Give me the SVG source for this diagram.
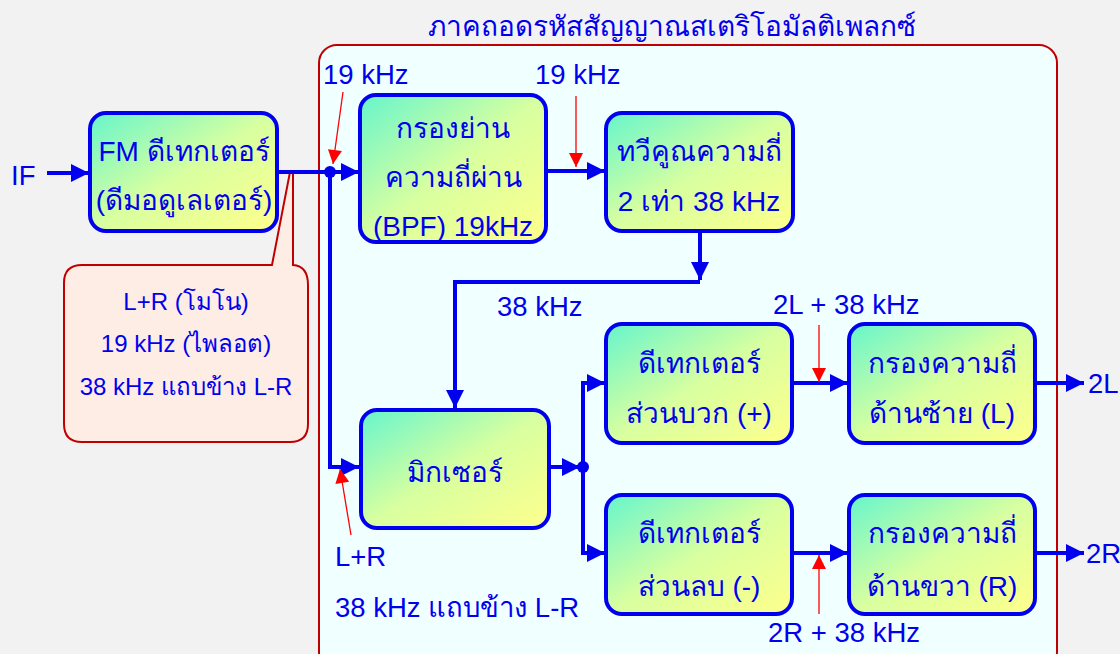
<svg xmlns="http://www.w3.org/2000/svg" width="1120" height="654" viewBox="0 0 1120 654">
<defs>
<linearGradient id="g" x1="0" y1="0" x2="1" y2="1">
<stop offset="0" stop-color="#66f5cc"/>
<stop offset="0.5" stop-color="#d8ffa0"/>
<stop offset="1" stop-color="#ffff8c"/>
</linearGradient>
<marker id="ab" viewBox="0 0 10 10" refX="10" refY="5" markerWidth="20" markerHeight="18" markerUnits="userSpaceOnUse" orient="auto"><path d="M0,0 L10,5 L0,10 z" fill="#0000ee"/></marker>
<marker id="ar" viewBox="0 0 10 10" refX="10" refY="5" markerWidth="16" markerHeight="14" markerUnits="userSpaceOnUse" orient="auto"><path d="M0,0 L10,5 L0,10 z" fill="#ff0000"/></marker>
<style>
.box{fill:url(#g);stroke:#0000ee;stroke-width:4}
.t{font-family:"Liberation Sans","Noto Sans","DejaVu Sans",sans-serif;font-size:28px;fill:#0000ee;text-anchor:middle}
.s{font-size:24px}
.l{font-family:"Liberation Sans","Noto Sans","DejaVu Sans",sans-serif;font-size:27.5px;fill:#0000ee}
.c{stroke:#0000ee;stroke-width:4;fill:none}
.r{stroke:#ff0000;stroke-width:1.3;fill:none}
</style>
</defs>
<rect width="1120" height="654" fill="#f2f2f2"/>
<rect id="frame" x="319" y="45" width="738" height="625" rx="18" fill="#f0ffff" stroke="#c00000" stroke-width="2"/>
<text class="t" x="672" y="36">ภาคถอดรหัสสัญญาณสเตริโอมัลติเพลกซ์</text>

<g id="callout">
<path d="M82,265 L272,265 L290,172 L293,172 L293,265 Q308,266 308,285 L308,424 Q308,442 290,442 L82,442 Q64,442 64,424 L64,283 Q64,265 82,265 z" fill="#fdede4" stroke="#c00000" stroke-width="2"/>
<text class="t s" x="186" y="310">L+R (โมโน)</text>
<text class="t s" x="186" y="352">19 kHz (ไพลอต)</text>
<text class="t s" x="186" y="395">38 kHz แถบข้าง L-R</text>
</g>

<g id="connectors">
<line class="c" x1="47" y1="173" x2="89" y2="173" marker-end="url(#ab)"/>
<line class="c" x1="277" y1="172" x2="359" y2="172" marker-end="url(#ab)"/>
<path class="c" d="M330,172 L330,467 L359,467" marker-end="url(#ab)"/>
<line class="c" x1="546" y1="171" x2="605" y2="171" marker-end="url(#ab)"/>
<line class="c" x1="700" y1="231" x2="700" y2="280" marker-end="url(#ab)"/>
<path class="c" d="M700,282 L455,282 L455,408" marker-end="url(#ab)"/>
<line class="c" x1="548" y1="467" x2="580" y2="467" marker-end="url(#ab)"/>
<path class="c" d="M605,383 L583,383 L583,553 L605,553"/>
<line class="c" x1="583" y1="383" x2="605" y2="383" marker-end="url(#ab)"/>
<line class="c" x1="583" y1="553" x2="605" y2="553" marker-end="url(#ab)"/>
<line class="c" x1="791" y1="383" x2="848" y2="383" marker-end="url(#ab)"/>
<line class="c" x1="791" y1="553" x2="848" y2="553" marker-end="url(#ab)"/>
<line class="c" x1="1034" y1="383" x2="1084" y2="383" marker-end="url(#ab)"/>
<line class="c" x1="1034" y1="553" x2="1084" y2="553" marker-end="url(#ab)"/>
<circle cx="330" cy="172" r="6" fill="#0000ee"/>
<circle cx="583" cy="467" r="6" fill="#0000ee"/>
<line class="r" x1="343" y1="92" x2="333" y2="164" marker-end="url(#ar)"/>
<line class="r" x1="576" y1="96" x2="576" y2="167" marker-end="url(#ar)"/>
<line class="r" x1="819" y1="325" x2="819" y2="382" marker-end="url(#ar)"/>
<line class="r" x1="819" y1="614" x2="819" y2="555" marker-end="url(#ar)"/>
<line class="r" x1="351" y1="535" x2="340" y2="469" marker-end="url(#ar)"/>
</g>

<g id="labels">
<text class="l" x="11" y="185">IF</text>
<text class="l" x="323" y="84">19 kHz</text>
<text class="l" x="535" y="84">19 kHz</text>
<text class="l" x="497" y="316">38 kHz</text>
<text class="l" x="773" y="314">2L + 38 kHz</text>
<text class="l" x="768" y="642">2R + 38 kHz</text>
<text class="l" x="335" y="566">L+R</text>
<text class="l" x="335" y="617">38 kHz แถบข้าง L-R</text>
<text class="l" x="1088" y="393">2L</text>
<text class="l" x="1086" y="563">2R</text>
</g>

<g id="fm"><rect class="box" x="90" y="113" width="187" height="118" rx="16"/>
<text class="t" x="184" y="161">FM ดีเทกเตอร์</text>
<text class="t" x="184" y="210">(ดีมอดูเลเตอร์)</text></g>

<g id="bpf"><rect class="box" x="360" y="95" width="186" height="147" rx="16"/>
<text class="t" x="453" y="138">กรองย่าน</text>
<text class="t" x="453" y="187">ความถี่ผ่าน</text>
<text class="t" x="453" y="236">(BPF) 19kHz</text></g>

<g id="doubler"><rect class="box" x="606" y="113" width="187" height="118" rx="16"/>
<text class="t" x="699" y="161">ทวีคูณความถี่</text>
<text class="t" x="699" y="211">2 เท่า 38 kHz</text></g>

<g id="mixer"><rect class="box" x="361" y="410" width="188" height="118" rx="16"/>
<text class="t" x="455" y="482">มิกเซอร์</text></g>

<g id="detplus"><rect class="box" x="606" y="324" width="186" height="119" rx="16"/>
<text class="t" x="699" y="373">ดีเทกเตอร์</text>
<text class="t" x="699" y="423">ส่วนบวก (+)</text></g>

<g id="filterL"><rect class="box" x="849" y="324" width="186" height="119" rx="16"/>
<text class="t" x="942" y="373">กรองความถี่</text>
<text class="t" x="942" y="423">ด้านซ้าย (L)</text></g>

<g id="detminus"><rect class="box" x="606" y="495" width="186" height="119" rx="16"/>
<text class="t" x="699" y="543">ดีเทกเตอร์</text>
<text class="t" x="699" y="596">ส่วนลบ (-)</text></g>

<g id="filterR"><rect class="box" x="849" y="495" width="186" height="119" rx="16"/>
<text class="t" x="942" y="543">กรองความถี่</text>
<text class="t" x="942" y="596">ด้านขวา (R)</text></g>
</svg>
